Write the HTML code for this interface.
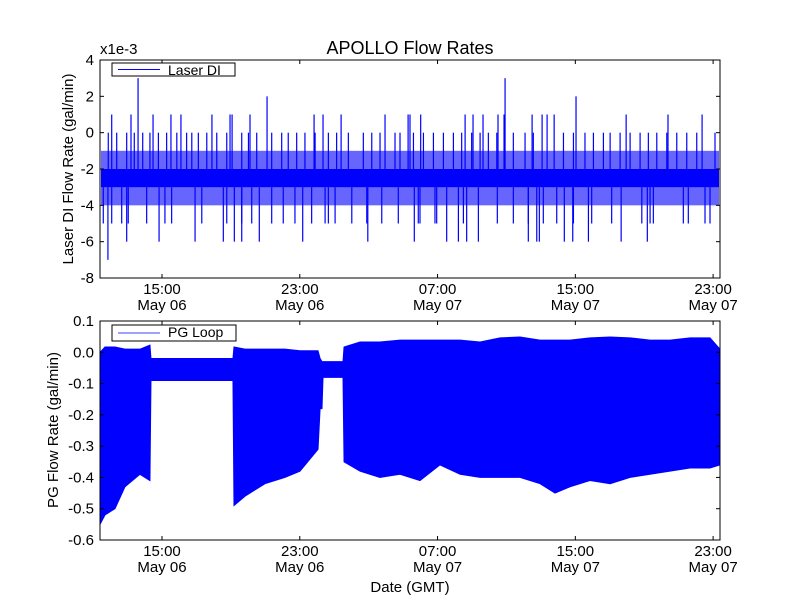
<!DOCTYPE html>
<html><head><meta charset="utf-8"><style>
html,body{margin:0;padding:0;background:#fff;}
svg text{font-family:"Liberation Sans","DejaVu Sans",sans-serif;fill:#000;}
</style></head><body>
<svg id="fig" width="800" height="600" viewBox="0 0 800 600" xmlns="http://www.w3.org/2000/svg">
<rect width="800" height="600" fill="#fff"/>
<text x="410" y="54" font-size="18" text-anchor="middle">APOLLO Flow Rates</text>
<text x="100" y="54" font-size="15">x1e-3</text>
<g id="top"></g>
<g id="bot"></g>
<text x="410" y="592" font-size="15" text-anchor="middle">Date (GMT)</text>
<text transform="translate(73,169) rotate(-90)" font-size="15" text-anchor="middle">Laser DI Flow Rate (gal/min)</text>
<text transform="translate(58,430) rotate(-90)" font-size="15" text-anchor="middle">PG Flow Rate (gal/min)</text>
</svg>
<script>
// shared x axis (hours since start, ~11:24 May 06)
const xTickHours = [3.6, 11.6, 19.6, 27.6, 35.6];
const xTickTimes = ["15:00","23:00","07:00","15:00","23:00"];
const xTickDates = ["May 06","May 06","May 07","May 07","May 07"];
// top chart (x1e-3 gal/min)
const diTicks = [4,2,0,-2,-4,-6,-8];
const diCore = [-3,-2];
const diHatch = [-4,-1];
const spikesUp3 = [2.21, 23.52];
const spikesUp2 = [9.70, 27.64];
const spikesUp1 = [0.68,1.80,3.08,4.12,4.70,6.50,7.55,7.67,8.71,12.43,12.95,14.00,16.55,17.89,18.0,18.62,21.2,21.66,22.24,23.11,23.46,25.09,25.67,25.96,26.37,30.55,32.98,34.96];
const spikesUp0 = [0.48,0.97,1.55,1.99,2.48,2.90,3.39,3.87,4.46,5.03,5.33,5.71,6.20,6.78,7.36,8.23,8.62,9.10,9.97,10.55,10.93,11.42,11.90,12.49,13.26,13.74,14.42,15.29,15.78,16.26,17.13,17.42,18.20,18.78,19.36,19.94,20.52,21.0,21.58,22.07,22.55,23.04,24.0,24.68,25.16,26.91,27.49,28.16,28.65,29.23,29.62,30.2,30.78,31.36,31.84,32.33,32.91,33.49,34.07,34.65,35.71];
const spikesDn5 = [0.19,0.68,1.26,1.64,2.71,3.77,4.16,5.91,7.36,8.23,8.81,9.97,10.64,11.32,12.29,13.07,13.26,13.65,14.62,15.49,16.36,17.32,18.58,18.48,19.45,19.55,21.1,23.07,24.0,24.87,25.74,26.52,27.49,28.55,29.71,31.46,31.94,32.13,33.87,34.16,35.13,35.42];
const spikesDn6 = [1.55,3.43,5.52,7.16,7.80,8.23,9.25,11.77,15.55,18.25,20.13,20.81,21.29,21.97,24.87,25.36,25.51,26.96,27.45,28.36,30.26,31.78];
const spikesDn7 = [0.46];
// bottom chart (gal/min) envelope
const pgTicks = [0.1,0.0,-0.1,-0.2,-0.3,-0.4,-0.5,-0.6];
const pgTimes = [0,0.29,0.87,1.45,2.32,2.90,2.96,7.72,7.78,8.42,9.58,10.74,11.61,12.66,12.78,12.89,12.95,14.11,14.17,15.10,16.26,17.42,18.58,19.74,20.91,22.07,23.23,24.39,25.55,26.42,27.29,28.45,29.62,30.78,31.94,33.10,34.26,35.42,36.0];
const pgUpper = [0.0,0.017,0.017,0.01,0.01,0.023,-0.02,-0.02,0.017,0.01,0.01,0.01,0.005,0.005,-0.02,-0.03,-0.03,-0.03,0.017,0.033,0.033,0.039,0.039,0.039,0.039,0.033,0.046,0.049,0.039,0.039,0.039,0.046,0.049,0.046,0.039,0.039,0.046,0.046,0.01];
const pgLower = [-0.55,-0.52,-0.50,-0.43,-0.39,-0.41,-0.09,-0.09,-0.49,-0.46,-0.42,-0.40,-0.38,-0.31,-0.18,-0.18,-0.08,-0.08,-0.35,-0.38,-0.40,-0.39,-0.41,-0.36,-0.39,-0.40,-0.40,-0.40,-0.42,-0.45,-0.43,-0.41,-0.42,-0.40,-0.39,-0.38,-0.37,-0.37,-0.36];

const NS="http://www.w3.org/2000/svg";
const L=100,R=720;
function X(t){return L+t*(R-L)/36;}
function mk(tag,attrs,parent){const e=document.createElementNS(NS,tag);for(const k in attrs)e.setAttribute(k,attrs[k]);parent.appendChild(e);return e;}

function axes(g,top,bot,Y,ticks,fmt,prefix,xlabY){
  for(const v of ticks){
    const y=Y(v);
    const t1=mk('line',{x1:L,x2:L+4,y1:y,y2:y,stroke:'#000'},g);
    
    
    mk('line',{x1:R-4,x2:R,y1:y,y2:y,stroke:'#000'},g);
    const tx=mk('text',{x:L-6,y:y+5,'font-size':15,'text-anchor':'end'},g);
    tx.textContent=fmt(v);
    
    
  }
  xTickHours.forEach((h,i)=>{
    const x=X(h);
    mk('line',{x1:x,x2:x,y1:bot,y2:bot-4,stroke:'#000'},g);
    mk('line',{x1:x,x2:x,y1:top,y2:top+4,stroke:'#000'},g);
    const a=mk('text',{x:x,y:xlabY,'font-size':15,'text-anchor':'middle'},g);
    a.textContent=xTickTimes[i];
    
    
    const b=mk('text',{x:x,y:xlabY+16,'font-size':15,'text-anchor':'middle'},g);
    b.textContent=xTickDates[i];
    
    
  });
  const f=mk('rect',{x:L,y:top,width:R-L,height:bot-top,fill:'none',stroke:'#000','stroke-width':1},g);
  
  
}

// TOP
(function(){
  const g=document.getElementById('top');
  const T=60,B=278;
  const Y=v=>T+(4-v)*(B-T)/12;
  const hatch=mk('rect',{x:L+1,y:Y(diHatch[1]),width:R-L-2,height:Y(diHatch[0])-Y(diHatch[1]),fill:'#0000ff','fill-opacity':0.6},g);
  
  
  const core=mk('rect',{x:L+1,y:Y(diCore[1]),width:R-L-2,height:Y(diCore[0])-Y(diCore[1]),fill:'#0000ff'},g);
  
  
  const groups=[[spikesUp3,3],[spikesUp2,2],[spikesUp1,1],[spikesUp0,0],[spikesDn5,-5],[spikesDn6,-6],[spikesDn7,-7]];
  for(const [arr,v] of groups){
    for(const t of arr){
      const base=v>diCore[1]?diCore[1]:diCore[0];
      const ln=mk('line',{x1:X(t),x2:X(t),y1:Y(base),y2:Y(v),stroke:'#0000ff','stroke-width':1.2},g);
      
      
    }
  }
  axes(g,T,B,Y,diTicks,v=>String(v),'top',294);
  const lg=mk('g',{},g);
  
  
  mk('rect',{x:112,y:63,width:123,height:13,fill:'#fff',stroke:'#000'},lg);
  mk('line',{x1:118,x2:160,y1:69.5,y2:69.5,stroke:'#0000ff'},lg);
  const lt=mk('text',{x:168,y:75,'font-size':14},lg);lt.textContent='Laser DI';
})();

// BOTTOM
(function(){
  const g=document.getElementById('bot');
  const T=321,B=540;
  const Y=v=>T+(0.1-v)*(B-T)/0.7;
  let d='M'+X(pgTimes[0])+','+Y(pgUpper[0]);
  for(let i=1;i<pgTimes.length;i++)d+=' L'+X(pgTimes[i])+','+Y(pgUpper[i]);
  for(let i=pgTimes.length-1;i>=0;i--)d+=' L'+X(pgTimes[i])+','+Y(pgLower[i]);
  d+='Z';
  const p=mk('path',{d:d,fill:'#0000ff',stroke:'#0000ff','stroke-width':1},g);
  
  
  axes(g,T,B,Y,pgTicks,v=>v.toFixed(1),'bottom',556);
  const lg=mk('g',{},g);
  
  
  mk('rect',{x:112,y:325,width:124,height:16,fill:'#fff',stroke:'#000'},lg);
  mk('line',{x1:118,x2:160,y1:333,y2:333,stroke:'#8080ff','stroke-width':1.5},lg);
  const lt=mk('text',{x:168,y:337,'font-size':14},lg);lt.textContent='PG Loop';
})();
</script>
</body></html>
